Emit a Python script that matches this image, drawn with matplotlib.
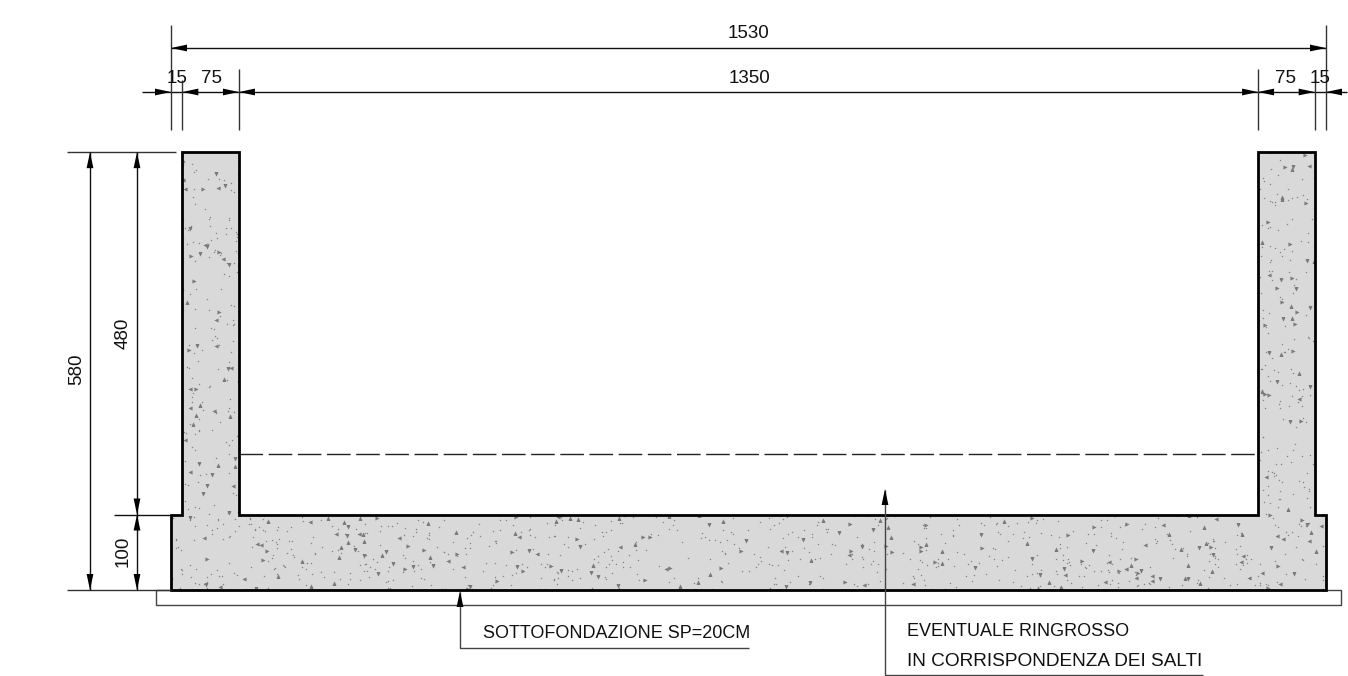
import matplotlib
matplotlib.use("Agg")
import matplotlib.pyplot as plt
import numpy as np
from matplotlib.patches import Polygon, Rectangle

# dimensions of the section, as written on the drawing
wall_offset = 15
wall_thick = 75
inner_span = 1350
total_width = 1530
slab_height = 100
wall_height = 480
total_height = 580
subbase_height = 20
subbase_over = 20
dashed_level = 180
note_1 = ["SOTTOFONDAZIONE SP=20CM"]
note_2 = ["EVENTUALE RINGROSSO", "IN CORRISPONDENZA DEI SALTI"]

SCALE = 1155.0 / total_width  # pixels per drawing unit
X0, Y0 = 171.0, 590.0         # pixel position of the section corner

plt.rcParams["font.family"] = ["Liberation Sans", "DejaVu Sans"]

fig = plt.figure(figsize=(13.48, 6.76), dpi=100)
ax = fig.add_axes([0, 0, 1, 1])
ax.set_xlim(-X0 / SCALE, (1348 - X0) / SCALE)
ax.set_ylim(-(676 - Y0) / SCALE, Y0 / SCALE)
ax.axis("off")


def px(x):
    return (x - X0) / SCALE


def py(y):
    return (Y0 - y) / SCALE


def line(xs, ys, color="#111111", lw=1.0, **kw):
    ax.plot(xs, ys, color=color, lw=lw, solid_capstyle="butt", zorder=4, **kw)


def head(x, y, dx, dy):
    # filled arrow head with its tip on x, y, pointing along dx, dy
    length = 16 / SCALE
    half = 3.4 / SCALE
    ax.add_patch(Polygon([(x, y),
                          (x - dx * length - dy * half, y - dy * length - dx * half),
                          (x - dx * length + dy * half, y - dy * length + dx * half)],
                         closed=True, fc="black", ec="none", zorder=5))


def label(x, y, s, rot=0, ha="center", size=13.5):
    ax.text(x, y, s, fontsize=size, rotation=rot, ha=ha, va="center", color="#111111",
            rotation_mode="anchor", zorder=6)


def stipple(clip, n, first, marker, size, color):
    # concrete fill texture only, not chart data: quadratic Weyl sequence spreads the specks
    i = np.arange(first, first + n, dtype=np.float64)
    xs = np.mod(i * i * np.sqrt(2), 1.0) * total_width
    ys = np.mod(i * i * np.sqrt(3), 1.0) * total_height
    sc = ax.scatter(xs, ys, s=size, marker=marker, c=color, linewidths=0, zorder=2)
    sc.set_clip_path(clip)


# positions along the width
x_outer_l = 0
x_wall_l = wall_offset
x_in_l = x_wall_l + wall_thick
x_in_r = x_in_l + inner_span
x_wall_r = x_in_r + wall_thick
x_outer_r = x_wall_r + wall_offset
y_slab = slab_height
y_top = total_height

outline = [(x_outer_l, 0), (x_outer_r, 0), (x_outer_r, y_slab), (x_wall_r, y_slab),
           (x_wall_r, y_top), (x_in_r, y_top), (x_in_r, y_slab), (x_in_l, y_slab),
           (x_in_l, y_top), (x_wall_l, y_top), (x_wall_l, y_slab), (x_outer_l, y_slab)]

body = Polygon(outline, closed=True, fc="#d9d9d9", ec="none", zorder=1)
ax.add_patch(body)
stipple(body, 3800, 1, "o", 1.1, "#858585")
stipple(body, 300, 5001, "^", 9, "#7a7a7a")
stipple(body, 300, 6001, "v", 9, "#7a7a7a")
stipple(body, 250, 7001, "<", 9, "#7a7a7a")
stipple(body, 250, 8001, ">", 9, "#7a7a7a")
ax.add_patch(Polygon(outline, closed=True, fc="none", ec="black", lw=2.0, zorder=3,
                     joinstyle="miter"))

# sub-base under the slab
ax.add_patch(Rectangle((-subbase_over, -subbase_height), total_width + 2 * subbase_over,
                       subbase_height, fc="white", ec="#444444", lw=1.0, zorder=0))

# dashed level
line([x_in_l, x_in_r], [dashed_level, dashed_level], color="#222222", lw=1.0,
     linestyle=(0, (17, 4)))

# top dimensions
y_d1 = py(48)
y_d2 = py(92)
line([x_outer_l, x_outer_r], [y_d1, y_d1])
head(x_outer_l, y_d1, -1, 0)
head(x_outer_r, y_d1, 1, 0)
label(total_width / 2, py(33.5), str(total_width))

line([px(142), px(1347)], [y_d2, y_d2])
for xt, d in [(x_outer_l, 1), (x_wall_l, -1), (x_in_l, 1), (x_in_l, -1),
              (x_in_r, 1), (x_in_r, -1), (x_wall_r, 1), (x_outer_r, -1)]:
    head(xt, y_d2, d, 0)
label(px(177), py(78.5), str(wall_offset))
label(px(211), py(78.5), str(wall_thick))
label(px(749), py(78.5), str(inner_span))
label(px(1286), py(78.5), str(wall_thick))
label(px(1320), py(78.5), str(wall_offset))

# extension lines at the top
for xt, top in [(x_outer_l, 25), (x_wall_l, 80), (x_in_l, 69), (x_in_r, 69),
                (x_wall_r, 80), (x_outer_r, 25)]:
    line([xt, xt], [py(top), py(130)], color="#333333")

# left dimensions
x_d1 = px(90)
x_d2 = px(137)
line([px(67), px(176)], [y_top, y_top], color="#333333")
line([px(67), x_outer_l], [0, 0], color="#333333")
line([px(114), x_outer_l], [y_slab, y_slab], color="#111111")
line([x_d1, x_d1], [0, y_top])
line([x_d2, x_d2], [0, y_top])
head(x_d1, y_top, 0, 1)
head(x_d1, 0, 0, -1)
head(x_d2, y_top, 0, 1)
head(x_d2, y_slab, 0, -1)
head(x_d2, y_slab, 0, 1)
head(x_d2, 0, 0, -1)
label(px(76.5), py(369), str(total_height), rot=90)
label(px(123.5), py(333), str(wall_height), rot=90)
label(px(123.5), py(551), str(slab_height), rot=90)

# leaders
line([px(460), px(460), px(749)], [py(592), py(648), py(648)], color="#444444")
head(px(460), py(591), 0, 1)
label(px(483), py(634), note_1[0], ha="left", size=13)

line([px(885), px(885), px(1203)], [py(490), py(675), py(675)], color="#444444")
head(px(885), py(489), 0, 1)
label(px(907), py(631), note_2[0], ha="left", size=13)
label(px(907), py(662), note_2[1], ha="left", size=13.7)

fig.savefig("out.png", dpi=100)
